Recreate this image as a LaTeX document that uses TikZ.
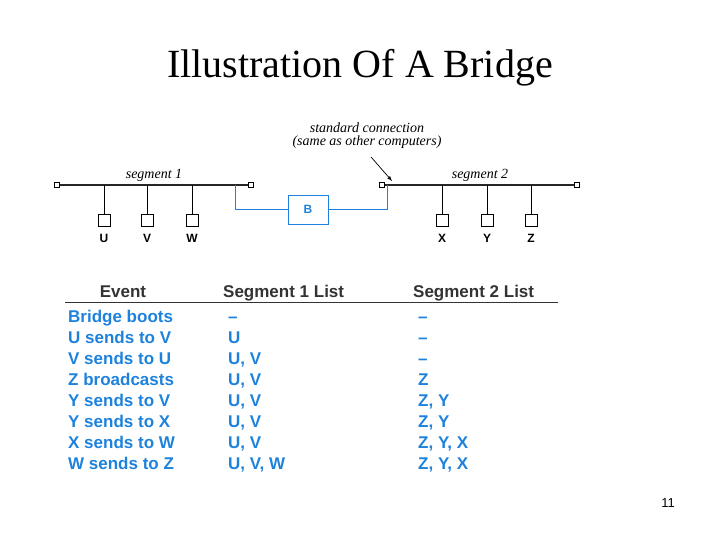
\documentclass[tikz,border=0pt]{standalone}
\usepackage{fontspec}
\setmainfont{Liberation Serif}
\newfontfamily\sansf{Liberation Sans}
\begin{document}
\begin{tikzpicture}[x=1pt,y=-1pt,
  seg/.style={line width=2pt,black!85},
  endsq/.style={draw,fill=white,minimum size=5pt,inner sep=0pt,line width=0.7pt},
  sta/.style={draw,fill=white,minimum size=12pt,inner sep=0pt,line width=0.9pt},
  stlab/.style={font=\sansf\bfseries\fontsize{12}{14}\selectfont},
  it/.style={font=\itshape\fontsize{14}{16}\selectfont},
  bl/.style={draw=bridgeblue,line width=0.9pt},
  ev/.style={font=\sansf\bfseries\fontsize{17}{19}\selectfont,text=bridgeblue,anchor=base west,inner sep=0pt},
  hd/.style={font=\sansf\bfseries\fontsize{17}{19}\selectfont,text=black!80,inner sep=0pt}]
\definecolor{bridgeblue}{RGB}{30,130,220}
\useasboundingbox (0,0) rectangle (720,540);
\node[font=\fontsize{40}{46}\selectfont] (title) at (360,68) {Illustration Of A Bridge};
% segment 1
\node[endsq] (e1) at (57,185) {};
\node[endsq] (e2) at (251,185) {};
\draw[seg] (e1) -- (e2);
\node[it] (s1) at (154,175) {segment 1};
\foreach \n/\x in {U/104,V/147,W/192}{
  \node[sta] (\n) at (\x,220) {};
  \draw[line width=0.9pt] (\x,185) -- (\n.north);
  \node[stlab] (l\n) at (\x,238) {\n};
}
% segment 2
\node[endsq] (e3) at (382,185) {};
\node[endsq] (e4) at (577,185) {};
\draw[seg] (e3) -- (e4);
\node[it] (s2) at (480,175) {segment 2};
\foreach \n/\x in {X/442,Y/487,Z/531}{
  \node[sta] (\n) at (\x,220) {};
  \draw[line width=0.9pt] (\x,185) -- (\n.north);
  \node[stlab] (l\n) at (\x,238) {\n};
}
% bridge
\node[bl,minimum width=40pt,minimum height=29pt,inner sep=0pt,text=bridgeblue,font=\sansf\bfseries\fontsize{12}{14}\selectfont] (B) at (308,209.5) {B};
\coordinate (c1) at (235,185);
\coordinate (c2) at (387,185);
\draw[bl] (c1) |- (B.west);
\draw[bl] (c2) |- (B.east);
\node[it,align=center,inner sep=0pt] (sc) at (367,135.5) {standard connection\\[-3pt](same as other computers)};
\coordinate (a1) at (371,157);
\draw[-latex,line width=0.7pt] (a1) -- (392,181);
% table
\node[hd,anchor=base] (h1) at (123,297) {Event};
\node[hd,anchor=base west] (h2) at (223,297) {Segment 1 List};
\node[hd,anchor=base west] (h3) at (413,297) {Segment 2 List};
\coordinate (r1) at (65,302);
\coordinate (r2) at (558,302);
\draw[line width=0.9pt,black!80] (r1) -- (r2);
\foreach \i/\a/\b/\c in {0/Bridge boots/\textendash/\textendash,1/U sends to V/U/\textendash,2/V sends to U/{U, V}/\textendash,3/Z broadcasts/{U, V}/Z,4/Y sends to V/{U, V}/{Z, Y},5/Y sends to X/{U, V}/{Z, Y},6/X sends to W/{U, V}/{Z, Y, X},7/W sends to Z/{U, V, W}/{Z, Y, X}}{
  \node[ev] (ra\i) at (68,322+21*\i) {\a};
  \node[ev] (rb\i) at (228,322+21*\i) {\b};
  \node[ev] (rc\i) at (418,322+21*\i) {\c};
}
\node[font=\sansf\fontsize{13}{15}\selectfont] (pg) at (668,503) {11};
\end{tikzpicture}
\end{document}
